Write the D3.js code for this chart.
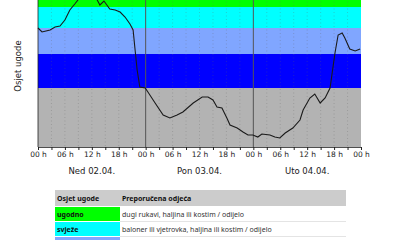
<!DOCTYPE html>
<html>
<head>
<meta charset="utf-8">
<script src="https://cdn.jsdelivr.net/npm/d3@7/dist/d3.min.js"></script>
<style>
  html, body { margin: 0; padding: 0; background: #fff; overflow: hidden; }
  svg { display: block; }
</style>
</head>
<body>
<div id="chart"></div>
<script>
// comfort index over three days (hours from Ned 02.04. 00 h)
const hours = [0, 0.9, 2.7, 3.8, 4.9, 6.0, 7.1, 8.2, 8.9, 10.0, 11.1, 12.3, 13.2, 13.8, 14.7, 16.0, 17.2, 18.3,
  19.4, 20.5, 21.2, 21.6, 22.1, 22.7, 23.9, 24.5, 26.1, 27.9, 29.4, 31.0, 32.3, 34.6, 36.6, 37.9, 39.0, 39.9,
  41.0, 42.1, 42.8, 44.4, 45.7, 46.8, 47.9, 49.0, 49.9, 51.7, 52.8, 53.9, 55.1, 56.8, 58.4, 59.1, 60.6, 61.7,
  62.9, 64.0, 65.1, 66.2, 66.9, 67.8, 68.4, 69.5, 70.7, 71.8];
const comfort = [11.9, 11.5, 11.7, 12.0, 12.1, 12.7, 13.7, 14.3, 14.7, 15.5, 15.9, 15.3, 14.7, 14.2, 14.6, 13.8, 13.7, 13.5,
  13.0, 12.3, 11.7, 9.9, 7.7, 6.0, 5.9, 5.5, 4.4, 3.2, 2.9, 3.2, 3.5, 4.4, 5.0, 5.0, 4.7, 4.0,
  3.9, 2.9, 2.2, 1.9, 1.5, 1.2, 1.2, 1.0, 1.3, 1.2, 1.0, 0.9, 1.4, 1.9, 2.7, 3.7, 4.9, 5.3,
  4.4, 4.9, 5.9, 9.4, 11.2, 11.4, 10.9, 9.8, 9.6, 9.8];

// comfort bands (lower, upper) and colours
const bandLow = [0, 5.9, 9.3, 11.9, 14.0];
const bandHigh = [5.9, 9.3, 11.9, 14.0, 17];
const bandColors = ['#b3b3b3', '#0000ff', '#80a6ff', '#00ffff', '#00ff00'];

const tickHours = d3.range(0, 73, 3);
const tickLabels = ['00 h', '06 h', '12 h', '18 h'];
const dayLabels = ['Ned 02.04.', 'Pon 03.04.', 'Uto 04.04.'];

// table (third row is cut off by the window, only its colour shows)
const tableHead = ['Osjet ugode', 'Preporučena odjeća'];
const tableNames = ['ugodno', 'svježe', ''];
const tableColors = ['#00ff00', '#00ffff', '#80a6ff'];
const tableText = ['dugi rukavi, haljina ili kostim / odijelo',
  'baloner ili vjetrovka, haljina ili kostim / odijelo', ''];

const W = 400, H = 240;
const margin = { left: 38, right: 39 };

const svg = d3.select('#chart').append('svg')
  .attr('width', W).attr('height', H);

const x = d3.scaleLinear().domain([0, 72]).range([margin.left, W - margin.right]);
const y = d3.scaleLinear().domain([0, 16]).range([147, -13]);

// bands
svg.selectAll('.band')
  .data(bandColors)
  .enter().append('rect')
  .attr('x', x(0))
  .attr('width', x(72) - x(0))
  .attr('y', (d, i) => y(bandHigh[i]))
  .attr('height', (d, i) => y(bandLow[i]) - y(bandHigh[i]))
  .attr('fill', d => d);

// dotted grid
svg.selectAll('.grid')
  .data(tickHours.filter(h => h % 24 !== 0))
  .enter().append('line')
  .attr('x1', d => x(d)).attr('x2', d => x(d))
  .attr('y1', y(17)).attr('y2', y(0))
  .attr('stroke', '#666')
  .attr('stroke-opacity', 0.5)
  .attr('stroke-width', 0.6)
  .attr('stroke-dasharray', '1,2.5');

// day separators
svg.selectAll('.day')
  .data([24, 48])
  .enter().append('line')
  .attr('x1', d => x(d)).attr('x2', d => x(d))
  .attr('y1', y(17)).attr('y2', y(0))
  .attr('stroke', '#555')
  .attr('stroke-width', 1);

// comfort line
const line = d3.line()
  .x((d, i) => x(hours[i]))
  .y(d => y(d));

svg.append('path')
  .datum(comfort)
  .attr('fill', 'none')
  .attr('stroke', '#1a1a1a')
  .attr('stroke-width', 1.1)
  .attr('d', line);

// x axis
const xAxis = d3.axisBottom(x)
  .tickValues(tickHours)
  .tickSize(3)
  .tickFormat(d => d % 6 === 0 ? tickLabels[(d % 24) / 6] : '');

const gx = svg.append('g')
  .attr('transform', `translate(0,${y(0)})`)
  .call(xAxis);
gx.select('.domain').attr('stroke', '#222').attr('stroke-width', 0.8);
gx.selectAll('.tick line').attr('stroke', '#222');
gx.selectAll('.tick text')
  .attr('dy', '0.55em')
  .style('font-family', 'DejaVu Sans')
  .style('font-size', '7.5px')
  .attr('fill', '#222');

// left border
svg.append('line')
  .attr('x1', x(0)).attr('x2', x(0))
  .attr('y1', y(17)).attr('y2', y(0))
  .attr('stroke', '#222').attr('stroke-width', 0.8);

// day labels
svg.selectAll('.dayLabel')
  .data(dayLabels)
  .enter().append('text')
  .attr('x', (d, i) => x(i * 24 + 12))
  .attr('y', 174)
  .attr('text-anchor', 'middle')
  .style('font-family', 'DejaVu Sans')
  .style('font-size', '8.5px')
  .attr('fill', '#222')
  .text(d => d);

// y label
svg.append('text')
  .attr('transform', `translate(21,${y(8.1)}) rotate(-90)`)
  .attr('text-anchor', 'middle')
  .style('font-family', 'DejaVu Sans')
  .style('font-size', '8.5px')
  .attr('fill', '#222')
  .text('Osjet ugode');

// table
const tx0 = 55, tx1 = 120, tx2 = 346;
const rowTop = [190, 207, 222, 237];
const rowH = [16, 14, 14, 14];
const tfont = 'Noto Sans';

svg.append('rect')
  .attr('x', tx0).attr('y', rowTop[0])
  .attr('width', tx2 - tx0).attr('height', rowH[0])
  .attr('fill', '#cccccc');

svg.selectAll('.head')
  .data(tableHead)
  .enter().append('text')
  .attr('x', (d, i) => (i === 0 ? tx0 : tx1) + 2)
  .attr('y', rowTop[0] + 11)
  .style('font-family', tfont)
  .style('font-size', '7px')
  .style('font-weight', 'bold')
  .attr('fill', '#111')
  .text(d => d);

const rows = svg.selectAll('.row')
  .data(tableNames)
  .enter().append('g');

rows.append('rect')
  .attr('x', tx0).attr('y', (d, i) => rowTop[i + 1])
  .attr('width', tx1 - tx0).attr('height', (d, i) => rowH[i + 1])
  .attr('fill', (d, i) => tableColors[i]);

rows.filter(d => d !== '').append('line')
  .attr('x1', tx1).attr('x2', tx2)
  .attr('y1', (d, i) => rowTop[i + 1] + rowH[i + 1] + 0.5)
  .attr('y2', (d, i) => rowTop[i + 1] + rowH[i + 1] + 0.5)
  .attr('stroke', '#e4e4e4');

rows.filter(d => d !== '').append('text')
  .attr('x', tx0 + 2)
  .attr('y', (d, i) => rowTop[i + 1] + 10)
  .style('font-family', tfont)
  .style('font-size', '7px')
  .style('font-weight', 'bold')
  .attr('fill', '#111')
  .text(d => d);

rows.filter(d => d !== '').append('text')
  .attr('x', tx1 + 2)
  .attr('y', (d, i) => rowTop[i + 1] + 10)
  .style('font-family', tfont)
  .style('font-size', '7px')
  .attr('fill', '#333')
  .text((d, i) => tableText[i]);
</script>
</body>
</html>
